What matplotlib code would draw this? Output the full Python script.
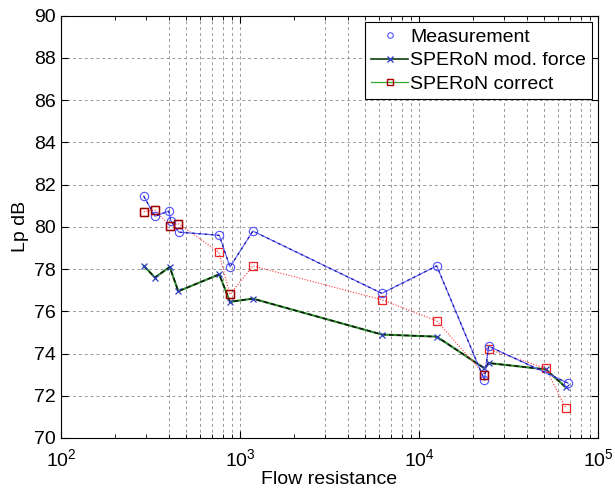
import matplotlib
matplotlib.use("Agg")
import matplotlib.pyplot as plt
from matplotlib.lines import Line2D
from matplotlib.ticker import LogLocator, NullFormatter, MultipleLocator
import numpy as np

plt.rcParams['font.family'] = ['Liberation Sans', 'DejaVu Sans']
plt.rcParams['mathtext.default'] = 'regular'

# Measurement
meas_x = [290, 335, 400, 410, 455, 766, 879, 1180, 6200, 12560, 23200, 24450, 68000]
meas_y = [81.45, 80.5, 80.75, 80.3, 79.75, 79.6, 78.1, 79.8, 76.85, 78.15, 72.75, 74.35, 72.6]

# SPERoN mod. force
mod_x = [290, 335, 405, 452, 766, 879, 1180, 6200, 12560, 23200, 24450, 51000, 66200]
mod_y = [78.15, 77.6, 78.1, 76.95, 77.75, 76.45, 76.6, 74.9, 74.8, 73.3, 73.55, 73.25, 72.4]

# SPERoN correct
cor_x = [290, 335, 405, 452, 760, 879, 1180, 6200, 12560, 23200, 24450, 51000, 66200]
cor_y = [80.72, 80.8, 80.05, 80.15, 78.8, 76.8, 78.15, 76.55, 75.55, 73.0, 74.2, 73.3, 71.4]

legend_labels = ['Measurement', 'SPERoN mod. force', 'SPERoN correct']

fig = plt.figure(figsize=(6.15, 4.95), dpi=100)
ax = fig.add_axes([61/615, 1-438/495, (598-61)/615, (438-15.7)/495])

# Measurement: blue line with darker dashes, open circles
ax.plot(meas_x, meas_y, color='#6a6aff', lw=0.9, ls='-', zorder=4)
ax.plot(meas_x, meas_y, color='#1a1a99', lw=0.9, ls=(0, (2, 3)), marker='o', ms=6,
        mfc='none', mec='#4f4fff', mew=0.8, zorder=4)
# Mod force: green/black line with x markers
ax.plot(mod_x, mod_y, color='#2e8b2e', lw=1.5, ls='-', zorder=3)
ax.plot(mod_x, mod_y, color='#0a1a0a', lw=1.1, ls=(0, (3, 2)), marker='x', ms=5,
        mec='#2f3fbb', mew=0.9, zorder=3)
# Correct: red dotted line with squares
ax.plot(cor_x, cor_y, color='#ff3333', lw=0.8, ls=(0, (1, 1.5)), marker='s', ms=6,
        mfc='none', mec='#ee2222', mew=0.9, zorder=3)
dark = [0, 1, 2, 3, 5, 9]
ax.plot([cor_x[i] for i in dark], [cor_y[i] for i in dark], ls='none', marker='s', ms=6,
        mfc='none', mec='#990000', mew=1.0, zorder=5)

ax.set_xscale('log')
ax.set_xlim(100, 1e5)
ax.set_ylim(70, 90)
ax.yaxis.set_major_locator(MultipleLocator(2))
ax.xaxis.set_major_locator(LogLocator(base=10, numticks=10))
ax.xaxis.set_minor_locator(LogLocator(base=10, subs=np.arange(2, 10), numticks=20))
ax.xaxis.set_minor_formatter(NullFormatter())

# grid
gkw = dict(color='#999999', lw=0.7, ls=(0, (3, 3)), zorder=1)
for yv in np.arange(72, 90, 2):
    ax.axhline(yv, **gkw)
vgrid = [400, 500, 600, 700, 800, 900, 1000, 3000, 4000, 5000, 6000, 7000, 8000, 9000,
         10000, 20000, 30000, 40000, 50000, 60000, 70000, 80000, 90000]
for xv in vgrid:
    ax.axvline(xv, **gkw)

ax.tick_params(which='both', direction='in', top=True, right=True, labelsize=14)
ax.tick_params(which='major', length=5)
ax.tick_params(which='minor', length=3)
ax.tick_params(axis='x', pad=7)
for s in ax.spines.values():
    s.set_linewidth(0.8)

ax.set_xlabel('Flow resistance', fontsize=14, labelpad=1)
ax.set_ylabel('Lp dB', fontsize=14)

handles = [
    Line2D([], [], ls='none', marker='o', ms=4, mfc='none', mec='#5555ff', mew=0.8),
    Line2D([], [], color='#0d3d0d', lw=1.2, marker='x', ms=4, mec='#3344cc'),
    Line2D([], [], color='#33aa33', lw=0.9, marker='s', ms=5, mfc='none', mec='#aa0000'),
]
leg = ax.legend(handles, legend_labels, loc='upper right', bbox_to_anchor=(0.989, 0.984),
                fontsize=14, frameon=True, fancybox=False, edgecolor='black',
                framealpha=1, handlelength=1.9, handletextpad=0.12, borderpad=0.3,
                labelspacing=0.3, borderaxespad=0)
leg.get_frame().set_linewidth(0.8)

fig.savefig('out.png', dpi=100)
